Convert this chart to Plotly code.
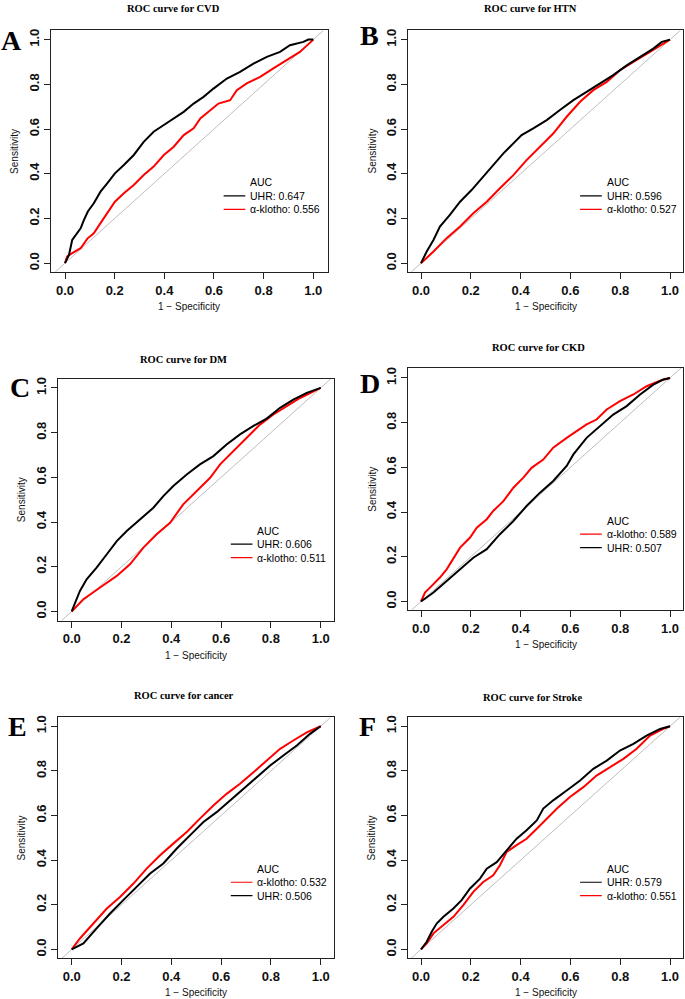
import plotly.graph_objects as go

# ---------------- data ----------------
titles = ["ROC curve for CVD", "ROC curve for HTN", "ROC curve for DM",
          "ROC curve for CKD", "ROC curve for cancer", "ROC curve for Stroke"]
letters = ["A", "B", "C", "D", "E", "F"]

uhr_auc = [0.647, 0.596, 0.606, 0.507, 0.506, 0.579]
klotho_auc = [0.556, 0.527, 0.511, 0.589, 0.532, 0.551]
# order of legend entries: True -> UHR first
uhr_first = [True, True, True, False, False, True]

# CVD
cvd_uhr_x = [0, 0.016, 0.029, 0.039, 0.063, 0.076, 0.092, 0.116, 0.143, 0.170, 0.201, 0.237, 0.277, 0.317, 0.357, 0.398, 0.438, 0.478, 0.518, 0.558, 0.598, 0.652, 0.705, 0.759, 0.813, 0.866, 0.906, 0.960, 0.980, 1.0]
cvd_uhr_y = [0, 0.037, 0.104, 0.119, 0.156, 0.193, 0.231, 0.268, 0.320, 0.357, 0.402, 0.439, 0.484, 0.543, 0.588, 0.618, 0.647, 0.677, 0.714, 0.744, 0.781, 0.826, 0.856, 0.893, 0.923, 0.945, 0.975, 0.990, 1.0, 1.0]
cvd_kl_x = [0, 0.009, 0.029, 0.063, 0.090, 0.116, 0.143, 0.170, 0.201, 0.237, 0.277, 0.317, 0.357, 0.398, 0.438, 0.478, 0.518, 0.545, 0.585, 0.618, 0.665, 0.692, 0.732, 0.786, 0.839, 0.893, 0.946, 1.0]
cvd_kl_y = [0, 0.030, 0.045, 0.067, 0.110, 0.134, 0.179, 0.223, 0.275, 0.313, 0.350, 0.394, 0.432, 0.484, 0.521, 0.573, 0.603, 0.647, 0.685, 0.714, 0.729, 0.774, 0.804, 0.833, 0.871, 0.908, 0.945, 1.0]

# HTN
htn_uhr_x = [0, 0.023, 0.050, 0.076, 0.116, 0.157, 0.203, 0.250, 0.290, 0.331, 0.371, 0.404, 0.451, 0.505, 0.558, 0.612, 0.665, 0.719, 0.772, 0.826, 0.880, 0.933, 0.967, 1.0]
htn_uhr_y = [0, 0.052, 0.104, 0.164, 0.216, 0.275, 0.327, 0.387, 0.439, 0.491, 0.536, 0.573, 0.603, 0.640, 0.685, 0.729, 0.766, 0.804, 0.841, 0.885, 0.923, 0.960, 0.990, 1.0]
htn_kl_x = [0, 0.050, 0.103, 0.157, 0.210, 0.264, 0.317, 0.371, 0.424, 0.478, 0.531, 0.585, 0.639, 0.692, 0.746, 0.799, 0.853, 0.906, 0.960, 1.0]
htn_kl_y = [0, 0.052, 0.112, 0.164, 0.223, 0.275, 0.335, 0.394, 0.461, 0.521, 0.580, 0.655, 0.722, 0.774, 0.811, 0.863, 0.900, 0.938, 0.975, 1.0]

# DM
dm_uhr_x = [0, 0.013, 0.033, 0.060, 0.100, 0.141, 0.181, 0.221, 0.274, 0.328, 0.368, 0.408, 0.462, 0.515, 0.569, 0.622, 0.676, 0.730, 0.783, 0.837, 0.890, 0.944, 1.0]
dm_uhr_y = [0, 0.040, 0.092, 0.144, 0.196, 0.256, 0.315, 0.360, 0.412, 0.464, 0.516, 0.561, 0.613, 0.658, 0.695, 0.747, 0.792, 0.830, 0.863, 0.911, 0.948, 0.978, 1.0]
dm_kl_x = [0, 0.047, 0.114, 0.181, 0.234, 0.288, 0.341, 0.395, 0.448, 0.502, 0.556, 0.596, 0.649, 0.703, 0.756, 0.810, 0.863, 0.917, 1.0]
dm_kl_y = [0, 0.055, 0.107, 0.159, 0.211, 0.286, 0.345, 0.397, 0.479, 0.539, 0.598, 0.658, 0.717, 0.777, 0.836, 0.881, 0.918, 0.955, 1.0]

# CKD
ckd_uhr_x = [0, 0.050, 0.103, 0.157, 0.210, 0.264, 0.317, 0.371, 0.424, 0.478, 0.531, 0.585, 0.612, 0.665, 0.719, 0.772, 0.826, 0.880, 0.933, 0.973, 1.0]
ckd_uhr_y = [0, 0.040, 0.092, 0.144, 0.196, 0.234, 0.301, 0.360, 0.427, 0.487, 0.539, 0.606, 0.658, 0.732, 0.784, 0.836, 0.874, 0.926, 0.970, 0.993, 1.0]
ckd_kl_x = [0, 0.016, 0.043, 0.076, 0.103, 0.123, 0.157, 0.197, 0.224, 0.264, 0.290, 0.331, 0.371, 0.411, 0.444, 0.491, 0.531, 0.585, 0.625, 0.665, 0.705, 0.746, 0.799, 0.853, 0.906, 0.960, 1.0]
ckd_kl_y = [0, 0.040, 0.070, 0.107, 0.144, 0.182, 0.241, 0.286, 0.330, 0.368, 0.405, 0.449, 0.509, 0.554, 0.598, 0.635, 0.688, 0.732, 0.762, 0.792, 0.814, 0.859, 0.896, 0.926, 0.963, 0.988, 1.0]

# cancer
can_uhr_x = [0, 0.047, 0.100, 0.154, 0.207, 0.261, 0.315, 0.368, 0.422, 0.475, 0.529, 0.582, 0.636, 0.689, 0.743, 0.797, 0.850, 0.904, 0.957, 1.0]
can_uhr_y = [0, 0.027, 0.094, 0.161, 0.221, 0.280, 0.340, 0.385, 0.452, 0.511, 0.571, 0.615, 0.668, 0.720, 0.772, 0.824, 0.869, 0.914, 0.966, 1.0]
can_kl_x = [0, 0.033, 0.087, 0.141, 0.194, 0.248, 0.301, 0.355, 0.408, 0.462, 0.515, 0.569, 0.622, 0.676, 0.730, 0.783, 0.837, 0.890, 0.944, 1.0]
can_kl_y = [0, 0.049, 0.116, 0.183, 0.235, 0.295, 0.362, 0.422, 0.474, 0.526, 0.586, 0.645, 0.697, 0.742, 0.794, 0.847, 0.899, 0.936, 0.973, 1.0]

# Stroke
str_uhr_x = [0, 0.023, 0.043, 0.063, 0.090, 0.130, 0.163, 0.197, 0.237, 0.264, 0.304, 0.344, 0.384, 0.424, 0.465, 0.491, 0.531, 0.585, 0.639, 0.692, 0.746, 0.799, 0.853, 0.906, 0.960, 1.0]
str_uhr_y = [0, 0.034, 0.079, 0.116, 0.146, 0.183, 0.221, 0.273, 0.317, 0.362, 0.391, 0.444, 0.496, 0.534, 0.578, 0.631, 0.668, 0.712, 0.757, 0.809, 0.846, 0.891, 0.921, 0.958, 0.988, 1.0]
str_kl_x = [0, 0.023, 0.050, 0.090, 0.130, 0.170, 0.210, 0.250, 0.290, 0.317, 0.344, 0.384, 0.424, 0.465, 0.505, 0.545, 0.598, 0.652, 0.705, 0.759, 0.813, 0.866, 0.920, 0.973, 1.0]
str_kl_y = [0, 0.027, 0.072, 0.109, 0.146, 0.198, 0.258, 0.302, 0.332, 0.377, 0.437, 0.467, 0.496, 0.541, 0.586, 0.630, 0.683, 0.727, 0.779, 0.817, 0.854, 0.899, 0.958, 0.988, 1.0]

uhr_x = [cvd_uhr_x, htn_uhr_x, dm_uhr_x, ckd_uhr_x, can_uhr_x, str_uhr_x]
uhr_y = [cvd_uhr_y, htn_uhr_y, dm_uhr_y, ckd_uhr_y, can_uhr_y, str_uhr_y]
kl_x = [cvd_kl_x, htn_kl_x, dm_kl_x, ckd_kl_x, can_kl_x, str_kl_x]
kl_y = [cvd_kl_y, htn_kl_y, dm_kl_y, ckd_kl_y, can_kl_y, str_kl_y]

tick_vals = [0, 0.2, 0.4, 0.6, 0.8, 1.0]
tick_text = ["0.0", "0.2", "0.4", "0.6", "0.8", "1.0"]

# ---------------- layout geometry (pixels) ----------------
W, H = 685, 999
# plot boxes: left, right, top, bottom
boxes = [(50.7, 327.7, 28.5, 270.5),
         (408.3, 683.3, 28.5, 270.5),
         (58.3, 334.3, 377.7, 620.0),
         (407.7, 683.3, 366.7, 609.3),
         (57.7, 334.3, 716.7, 958.3),
         (407.7, 683.3, 716.7, 958.3)]
# data origin / unit in pixels: x0px, x1px, y0px, y1px
maps = [(65.0, 313.3, 261.7, 37.7),
        (421.0, 670.0, 261.7, 37.7),
        (71.7, 320.7, 610.7, 386.7),
        (421.0, 670.0, 600.7, 376.7),
        (71.7, 320.7, 949.3, 725.7),
        (421.0, 670.0, 949.3, 725.7)]
title_pos = [(174, 7), (530, 7), (183.7, 358), (538.3, 346), (184, 695), (532.3, 697.3)]
letter_pos = [(11, 38.5), (369.3, 33.5), (19.7, 386), (369.7, 382), (17.2, 725.5), (367.8, 725.5)]

fig = go.Figure()
annotations = []
shapes = []

BLACK = "#000000"
RED = "#FF0000"
GREY = "#BEBEBE"

for i in range(6):
    ax = "" if i == 0 else str(i + 1)
    xa, ya = "x" + ax, "y" + ax
    l, r, t, b = boxes[i]
    x0p, x1p, y0p, y1p = maps[i]
    sx = x1p - x0p
    sy = y0p - y1p
    xr = [(l - x0p) / sx, (r - x0p) / sx]
    yr = [(y0p - b) / sy, (y0p - t) / sy]

    axis_common = dict(showgrid=False, zeroline=False, showline=True, linecolor="#222222",
                       linewidth=1, mirror=True, ticks="outside", ticklen=6, tickwidth=1,
                       tickcolor="#222222", tickvals=tick_vals, ticktext=tick_text,
                       tickfont=dict(family="Liberation Sans, Arial", size=13, color="#111111",
                                     weight="bold"),
                       fixedrange=True)
    fig.update_layout(**{
        ("xaxis" + ax): dict(domain=[l / W, r / W], range=xr, anchor=ya, **axis_common),
        ("yaxis" + ax): dict(domain=[1 - b / H, 1 - t / H], range=yr, anchor=xa,
                             tickangle=-90, **axis_common),
    })

    # diagonal reference line
    lo = max(xr[0], yr[0])
    hi = min(xr[1], yr[1])
    fig.add_trace(go.Scatter(x=[lo, hi], y=[lo, hi], mode="lines",
                             line=dict(color=GREY, width=1), xaxis=xa, yaxis=ya,
                             showlegend=False, hoverinfo="skip"))
    # curves
    fig.add_trace(go.Scatter(x=kl_x[i], y=kl_y[i], mode="lines",
                             line=dict(color=RED, width=2), xaxis=xa, yaxis=ya,
                             showlegend=False, name="α-klotho"))
    fig.add_trace(go.Scatter(x=uhr_x[i], y=uhr_y[i], mode="lines",
                             line=dict(color=BLACK, width=2), xaxis=xa, yaxis=ya,
                             showlegend=False, name="UHR"))

    # legend (drawn manually, R style)
    entries = [("UHR: %.3f" % uhr_auc[i], BLACK), ("α-klotho: %.3f" % klotho_auc[i], RED)]
    if not uhr_first[i]:
        entries = entries[::-1]
    leg_font = dict(family="Liberation Sans, Arial", size=10.5, color="#000000")
    annotations.append(dict(x=0.737, y=0.362, xref=xa, yref=ya, text="AUC", showarrow=False,
                            xanchor="left", yanchor="middle", font=leg_font))
    for k, (txt, col) in enumerate(entries):
        yy = 0.301 - 0.06 * k
        annotations.append(dict(x=0.737, y=yy, xref=xa, yref=ya, text=txt, showarrow=False,
                                xanchor="left", yanchor="middle", font=leg_font))
        shapes.append(dict(type="line", xref=xa, yref=ya, x0=0.639, x1=0.726, y0=yy, y1=yy,
                           line=dict(color=col, width=1.2)))

    # axis titles
    ax_font = dict(family="Liberation Sans, Arial", size=10, color="#111111")
    annotations.append(dict(x=((l + r) / 2) / W, y=1 - (b + 34.5) / H, xref="paper", yref="paper",
                            text="1 − Specificity", showarrow=False, xanchor="center",
                            yanchor="middle", font=ax_font))
    annotations.append(dict(x=(l - 36) / W, y=1 - ((t + b) / 2) / H, xref="paper", yref="paper",
                            text="Sensitivity", showarrow=False, textangle=-90, xanchor="center",
                            yanchor="middle", font=ax_font))
    # title
    tx, ty = title_pos[i]
    annotations.append(dict(x=tx / W, y=1 - ty / H, xref="paper", yref="paper", text=titles[i],
                            showarrow=False, xanchor="center", yanchor="middle",
                            font=dict(family="Liberation Serif, Times New Roman", size=10.5,
                                      color="#000000", weight="bold")))
    # panel letter
    lx, ly = letter_pos[i]
    annotations.append(dict(x=lx / W, y=1 - ly / H, xref="paper", yref="paper", text=letters[i],
                            showarrow=False, xanchor="center", yanchor="middle",
                            font=dict(family="Liberation Serif, Times New Roman", size=28,
                                      color="#000000", weight="bold")))

fig.update_layout(width=W, height=H, margin=dict(l=0, r=0, t=0, b=0),
                  paper_bgcolor="white", plot_bgcolor="white",
                  showlegend=False, annotations=annotations, shapes=shapes)

fig.write_html("out.html", config={"displayModeBar": False},
               post_script="document.body.style.margin='0';document.body.style.overflow='hidden';")
